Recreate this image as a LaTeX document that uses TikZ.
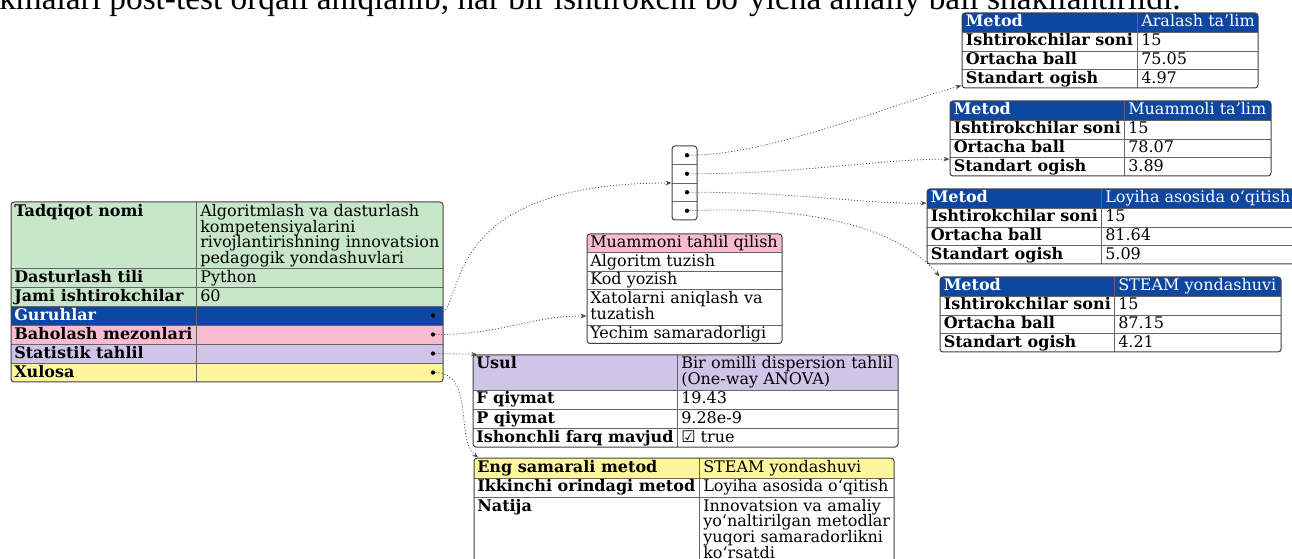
\documentclass[tikz,border=0pt]{standalone}
\usepackage{fontspec}
\setmainfont{DejaVu Serif}
\newfontfamily\pagefont{Liberation Serif}
\newfontfamily\signfont{DejaVu Sans}
\usetikzlibrary{arrows.meta,fit}

\definecolor{jgreen}{HTML}{C8E6C9}
\definecolor{jblue}{HTML}{0D47A1}
\definecolor{jpink}{HTML}{F8BBD0}
\definecolor{jlilac}{HTML}{D1C4E9}
\definecolor{jyellow}{HTML}{FFF59D}

\begin{document}
\begin{tikzpicture}[
    x=0.75pt, y=-0.75pt,
    font=\fontsize{12}{11.8}\selectfont,
    frame/.style={draw=black!75, line width=0.75pt, rounded corners=2.25pt, inner sep=0pt},
    rule/.style={draw=black!60, line width=0.6pt},
    key/.style={anchor=base west, inner sep=0pt, font=\fontsize{12}{11.8}\selectfont\bfseries},
    val/.style={anchor=base west, inner sep=0pt, align=left},
    dot/.style={circle, fill=black, inner sep=0pt, minimum size=3.2pt},
    link/.style={draw=black!70, line width=0.6pt, dash pattern=on 0.75pt off 1.5pt, -{Stealth[length=4.5pt,width=3.5pt]}}
]
\useasboundingbox (0,0) rectangle (1292,559);
\clip (0,0) rectangle (1292,559);

% cut-off line of the page text
\node[anchor=base west, inner sep=0pt, font=\pagefont\fontsize{25}{30}\selectfont] (page) at (-1,10)
  {kmalari post-test orqali aniqlanib, har bir ishtirokchi bo‘yicha amaliy ball shakllantirildi.};

% main record
\begin{scope}
  \clip[rounded corners=2.25pt] (11,202) rectangle (443,382);
  \fill[jgreen] (11,202) rectangle (443,306);
  \fill[jblue] (11,306) rectangle (443,325);
  \fill[jpink] (11,325) rectangle (443,344);
  \fill[jlilac] (11,344) rectangle (443,363);
  \fill[jyellow] (11,363) rectangle (443,382);
\end{scope}
\foreach \y in {268,287,306,325,344,363} \draw[rule] (11,\y) -- (443,\y);
\draw[rule] (196,202) -- (196,382);
\node[frame, fit={(11,202) (443,382)}] (main) {};

\node[key] (k1) at (14,216.5) {Tadqiqot nomi};
\node[val, text width=240pt] (v1) at (200,216.5) {Algoritmlash va dasturlash\\kompetensiyalarini\\rivojlantirishning innovatsion\\pedagogik yondashuvlari};
\node[key] (k2) at (14,282.5) {Dasturlash tili};
\node[val] (v2) at (200,282.5) {Python};
\node[key] (k3) at (14,301.5) {Jami ishtirokchilar};
\node[val] (v3) at (200,301.5) {60};
\node[key, text=white] (k4) at (14,320.5) {Guruhlar};
\node[key] (k5) at (14,339.5) {Baholash mezonlari};
\node[key] (k6) at (14,358.5) {Statistik tahlil};
\node[key] (k7) at (14,377.5) {Xulosa};
\node[dot] (b4) at (433,315.5) {};
\node[dot] (b5) at (433,334.5) {};
\node[dot] (b6) at (433,353.5) {};
\node[dot] (b7) at (433,372.5) {};

% groups array
\draw[rule] (672,164.5) -- (697,164.5) (672,183) -- (697,183) (672,201.5) -- (697,201.5);
\node[frame, fit={(672,146) (697,220)}] (grp) {};
\node[dot] (c1) at (687,155.25) {};
\node[dot] (c2) at (687,173.75) {};
\node[dot] (c3) at (687,192.25) {};
\node[dot] (c4) at (687,210.75) {};

% criteria list
\begin{scope}
  \clip[rounded corners=2.25pt] (587,234) rectangle (782,343.5);
  \fill[jpink] (587,234) rectangle (782,252.5);
\end{scope}
\draw[rule] (587,252.5) -- (782,252.5) (587,271) -- (782,271) (587,289.5) -- (782,289.5) (587,325) -- (782,325);
\node[frame, fit={(587,234) (782,343.5)}] (crit) {};
\node[val] (e1) at (590,248) {Muammoni tahlil qilish};
\node[val] (e2) at (590,266.5) {Algoritm tuzish};
\node[val] (e3) at (590,285) {Kod yozish};
\node[val, text width=170pt] (e4) at (590,303.5) {Xatolarni aniqlash va\\tuzatish};
\node[val] (e5) at (590,339) {Yechim samaradorligi};

% method tables
\foreach \n/\xl/\xd/\xr/\yt/\meth/\ball/\sd in {%
    1/962/1137/1258/13/Aralash ta’lim/75.05/4.97,
    2/950/1124/1271/101/Muammoli ta’lim/78.07/3.89,
    3/927/1101/1296/189/Loyiha asosida o‘qitish/81.64/5.09,
    4/940/1114/1281/277/STEAM yondashuvi/87.15/4.21}{
  \begin{scope}
    \clip[rounded corners=2.25pt] (\xl,\yt) rectangle (\xr,\yt+75);
    \fill[jblue] (\xl,\yt) rectangle (\xr,\yt+19);
  \end{scope}
  \draw[rule] (\xl,\yt+19) -- (\xr,\yt+19) (\xl,\yt+38) -- (\xr,\yt+38)
    (\xl,\yt+56.5) -- (\xr,\yt+56.5) (\xd,\yt) -- (\xd,\yt+75);
  \node[frame, fit={(\xl,\yt) (\xr,\yt+75)}] (m\n) {};
  \node[key, text=white] (m\n-k1) at (\xl+3.5,\yt+14) {Metod};
  \node[val, text=white] (m\n-v1) at (\xd+4,\yt+14) {\meth};
  \node[key] (m\n-k2) at (\xl+3.5,\yt+33) {Ishtirokchilar soni};
  \node[val] (m\n-v2) at (\xd+4,\yt+33) {15};
  \node[key] (m\n-k3) at (\xl+3.5,\yt+52) {Ortacha ball};
  \node[val] (m\n-v3) at (\xd+4,\yt+52) {\ball};
  \node[key] (m\n-k4) at (\xl+3.5,\yt+70.5) {Standart ogish};
  \node[val] (m\n-v4) at (\xd+4,\yt+70.5) {\sd};
}

% statistics
\begin{scope}
  \clip[rounded corners=2.25pt] (473,355) rectangle (898,447);
  \fill[jlilac] (473,355) rectangle (898,390);
\end{scope}
\draw[rule] (473,390) -- (898,390) (473,409) -- (898,409) (473,428) -- (898,428) (677,355) -- (677,447);
\node[frame, fit={(473,355) (898,447)}] (usul) {};
\node[key] (s1) at (476,369) {Usul};
\node[val, text width=200pt] (t1) at (681,369) {Bir omilli dispersion tahlil\\(One-way ANOVA)};
\node[key] (s2) at (476,404) {F qiymat};
\node[val] (t2) at (681,404) {19.43};
\node[key] (s3) at (476,423) {P qiymat};
\node[val] (t3) at (681,423) {9.28e-9};
\node[key] (s4) at (476,442) {Ishonchli farq mavjud};
\node[val] (t4) at (681,442) {{\signfont ☑} true};

% conclusion
\begin{scope}
  \clip[rounded corners=2.25pt] (474,458) rectangle (894,563);
  \fill[jyellow] (474,458) rectangle (894,478);
\end{scope}
\draw[rule] (474,478) -- (894,478) (474,497) -- (894,497) (699,458) -- (699,563);
\node[frame, fit={(474,458) (894,563)}] (xul) {};
\node[key] (x1) at (477,472) {Eng samarali metod};
\node[val] (y1) at (703,472) {STEAM yondashuvi};
\node[key] (x2) at (477,491.5) {Ikkinchi orindagi metod};
\node[val] (y2) at (703,491.5) {Loyiha asosida o‘qitish};
\node[key] (x3) at (477,511) {Natija};
\node[val, text width=180pt] (y3) at (703,511) {Innovatsion va amaliy\\yo‘naltirilgan metodlar\\yuqori samaradorlikni\\ko‘rsatdi};

% links
\draw[link] (b4) .. controls (470,316) and (425,183) .. (grp.west);
\draw[link] (b5) .. controls (500,335) and (530,316) .. ([yshift=-20.4pt]crit.west);
\draw[link] (b6) .. controls (460,354) and (468,354) .. ([xshift=3.5pt]usul.north west);
\draw[link] (b7) .. controls (475,373) and (455,440) .. ([xshift=3.5pt]xul.north west);
\draw[link] (c1) .. controls (770,155) and (890,105) .. ([yshift=2.2pt]m1.south west);
\draw[link] (c2) .. controls (800,174) and (880,159) .. ([yshift=13pt]m2.south west);
\draw[link] (c3) .. controls (800,192) and (860,204) .. ([yshift=-11pt]m3.north west);
\draw[link] (c4) .. controls (830,205) and (905,235) .. (m4.north west);
\end{tikzpicture}
\end{document}
